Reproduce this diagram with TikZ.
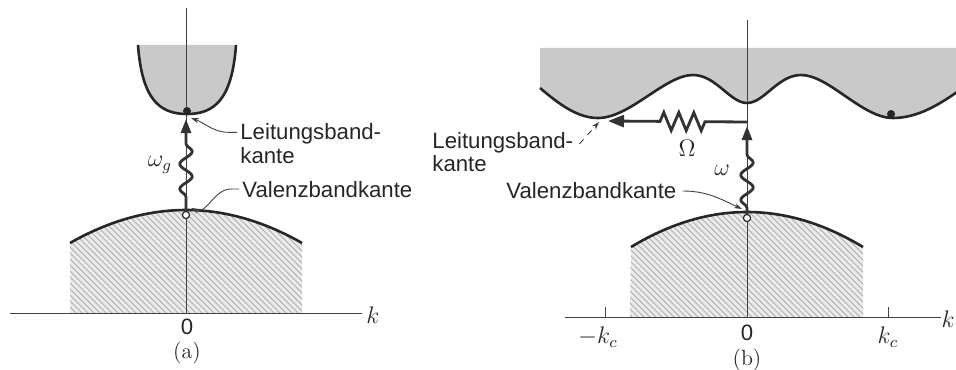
\documentclass[tikz,border=0pt]{standalone}
\usepackage{fontspec}
\newfontfamily\labfont{Liberation Sans}
\usetikzlibrary{decorations.pathmorphing,arrows.meta,patterns,calc}
\begin{document}
\begin{tikzpicture}[x=0.5pt,y=-0.5pt,
  lbl/.style={font=\labfont\fontsize{11.1}{11.6}\selectfont,inner sep=0pt,align=left,text=black!85},
  mlbl/.style={font=\fontsize{12}{12}\selectfont,inner sep=0pt,text=black!85},
  band/.style={line width=1.3pt,black!85},
  axis/.style={line width=0.5pt,black!75},
  leader/.style={line width=0.45pt,black!75,-{Stealth[length=4pt,width=2.6pt]}},
  cbfill/.style={fill=black!21},
  vbfill/.style={fill=black!8},
  vbhatch/.style={pattern=north west lines,pattern color=black!32},
  photon/.style={line width=1.4pt,black!80,decorate,
    decoration={snake,amplitude=3.1pt,segment length=12.5pt,pre length=#1,post length=10.5pt},
    -{Triangle[length=7pt,width=5pt]}},
  phonon/.style={line width=1.4pt,black!80,decorate,
    decoration={zigzag,amplitude=4.5pt,segment length=7.5pt,pre length=21pt,post length=26pt},
    -{Triangle[length=8pt,width=6pt]}},
  elec/.style={circle,fill=black!85,inner sep=0pt,minimum size=4pt},
  hole/.style={circle,draw=black!85,fill=white,line width=0.6pt,inner sep=0pt,minimum size=3.6pt}]
\useasboundingbox (0,0) rectangle (956,369);
\clip (0,0) rectangle (956,369);

% ================= panel (a) =================
\fill[vbfill] (70,313) -- plot[domain=-116:116,samples=40] ({186+\x},{210+33*(\x/116)^2}) -- (302,313) -- cycle;
\fill[vbhatch] (70,313) -- plot[domain=-116:116,samples=40] ({186+\x},{210+33*(\x/116)^2}) -- (302,313) -- cycle;
\fill[cbfill] (138,45) .. controls (142,100) and (160,114) .. (187,114) .. controls (214,114) and (232,100) .. (236,45) -- cycle;
\draw[axis] (10,313) -- (362,313);
\draw[axis] (186,8) -- (186,313);
\draw[band] plot[domain=-116:116,samples=40] ({186+\x},{210+33*(\x/116)^2});
\draw[band] (138,45) .. controls (142,100) and (160,114) .. (187,114) .. controls (214,114) and (232,100) .. (236,45);
\node[elec] (eA) at (187,111) {};
\node[hole] (hA) at (186,215) {};
\coordinate (tipA) at (186,119);
\draw[photon=7pt] (hA.north) -- (tipA);
\node[mlbl] (wg) at (160,165) {$\omega_g$};
\node[lbl,anchor=west] (LA) at (240,143.5) {Leitungsband-\\kante};
\node[lbl,anchor=west] (VA) at (242,190) {Valenzbandkante};
\draw[leader] ($(LA.north west)+(-3,9)$) -- ++(-8,0) to[out=180,in=-20] ($(eA)+(4,7)$);
\draw[leader] ($(VA.west)+(-3,-1)$) -- ++(-8,0) to[out=180,in=-25] ($(hA)+(5,-7)$);
\node[lbl] (zA) at (187,327) {0};
\node[mlbl] (kA) at (373,315) {$k$};
\node[font=\fontsize{11}{11}\selectfont,inner sep=0pt,text=black!85] (capA) at (187,353) {(a)};

% ================= panel (b) =================
\fill[vbfill] (630,317) -- plot[domain=-116:116,samples=40] ({747+\x},{212+35*(\x/116)^2}) -- (863,317) -- cycle;
\fill[vbhatch] (630,317) -- plot[domain=-116:116,samples=40] ({747+\x},{212+35*(\x/116)^2}) -- (863,317) -- cycle;
\fill[cbfill] (540,48) -- (540,88)
  .. controls (560,105) and (578,118) .. (598,118)
  .. controls (630,118) and (665,75) .. (693,75)
  .. controls (716,75) and (730,103) .. (747,103)
  .. controls (764,103) and (778,75) .. (801,75)
  .. controls (829,75) and (862,118) .. (893,118)
  .. controls (918,118) and (940,104) .. (960,90)
  -- (960,48) -- cycle;
\draw[axis] (565,317) -- (941,317);
\draw[axis] (747,20) -- (747,317);
\draw[axis] (605,307) -- (605,317);
\draw[axis] (888,307) -- (888,317);
\draw[band] plot[domain=-116:116,samples=40] ({747+\x},{212+35*(\x/116)^2});
\draw[band] (540,88)
  .. controls (560,105) and (578,118) .. (598,118)
  .. controls (630,118) and (665,75) .. (693,75)
  .. controls (716,75) and (730,103) .. (747,103)
  .. controls (764,103) and (778,75) .. (801,75)
  .. controls (829,75) and (862,118) .. (893,118)
  .. controls (918,118) and (940,104) .. (960,90);
\node[elec] (eB) at (891,114) {};
\node[hole] (hB) at (747,218) {};
\coordinate (cornerB) at (747,122);
\coordinate (tipB) at (747,126);
\coordinate (tipO) at (608,121);
\draw[photon=3pt] (hB.north) -- (tipB);
\draw[phonon] (cornerB) -- (tipO);
\node[mlbl] (wB) at (722,170) {$\omega$};
\node[mlbl] (OmB) at (687,148) {$\Omega$};
\node[lbl,anchor=west] (LB) at (432,152) {Leitungsband-\\kante};
\node[lbl,anchor=west] (VB) at (506,191) {Valenzbandkante};
\draw[leader,dashed] ($(LB.north east)+(6,12)$) -- ($(tipO)+(-9,1)$);
\draw[leader] ($(VB.east)+(6,0)$) to[out=0,in=155] ($(hB)+(-5,-9)$);
\node[lbl] (zB) at (747,333) {0};
\node[mlbl] (mkc) at (598,337) {$-k_c$};
\node[mlbl] (pkc) at (888,337) {$k_c$};
\node[mlbl,anchor=east] (kB) at (955,319) {$k$};
\node[font=\fontsize{11}{11}\selectfont,inner sep=0pt,text=black!85] (capB) at (747,360) {(b)};
\end{tikzpicture}
\end{document}
